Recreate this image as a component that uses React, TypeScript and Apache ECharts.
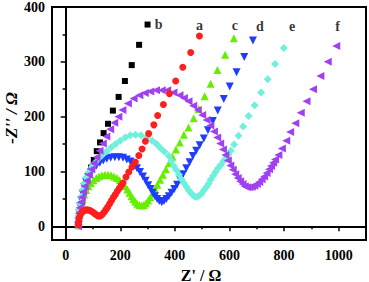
import React, { useEffect, useRef } from 'react';
import * as echarts from 'echarts';

// Series a (red circles)
const aX = [46,48,51,55,60,66,73,80,88,96,104,112,119,126,133,140,147,154,161,168,175,182,189,196,203,210,221,231,243,255,268,280,292,304,323,337,358,380,403,429,458,490];
const aY = [3,10,17,22,26,28,30,30,29,27,24,21,19,19,21,25,30,35,41,47,53,58,64,69,74,79,90,99,108,117,129,141,155,169,185,202,222,242,265,290,317,347];
// Series b (black squares)
const bX = [47,49,52,56,61,66,72,78,85,93,103,114,126,139,155,173,194,217,242,269,300];
const bY = [4,13,23,34,45,57,69,81,94,107,121,137,153,170,187,211,236,265,294,331,368];
// Series c (green up-triangles)
const cX = [47,48,50,53,57,62,68,75,83,92,102,112,122,133,144,155,166,177,188,198,208,217,226,234,241,248,255,262,270,278,286,294,302,310,318,327,336,346,356,367,379,391,404,418,433,450,469,487,509,531,556,584,616];
const cY = [2,10,20,30,40,50,58,66,73,79,84,88,91,93,94,94,93,91,88,84,79,73,67,61,55,50,45,41,39,38,39,42,47,53,60,68,76,85,94,104,115,127,140,153,167,180,197,214,237,260,285,313,343];
// Series d (blue down-triangles)
const dX = [47,48,50,53,57,62,68,75,83,92,102,113,125,138,151,165,180,195,210,224,237,249,261,272,283,293,302,311,319,327,335,343,352,360,369,378,388,398,408,419,430,442,454,466,478,491,506,521,539,557,579,601,626,654,686];
const dY = [2,12,24,36,48,60,71,81,90,98,105,111,116,120,123,125,126,126,125,122,118,113,106,99,91,83,75,68,61,55,50,46,44,46,50,55,61,68,76,85,95,106,117,128,138,148,160,175,192,211,232,255,281,309,339];
// Series e (cyan diamonds)
const eX = [47,47,48,50,53,57,62,68,75,85,96,108,122,136,151,167,183,200,218,237,256,276,297,317,333,347,362,378,387,396,406,415,424,433,442,450,458,466,474,482,490,498,507,516,524,531,540,549,558,568,578,587,596,605,617,633,650,670,692,716,740,767,799];
const eY = [0,8,18,30,42,54,66,78,89,99,108,116,124,131,137,144,150,156,162,166,167,166,162,156,150,143,136,128,119,110,102,94,86,79,72,66,61,57,54,54,56,60,66,72,78,85,92,99,106,112,119,124,131,138,149,165,182,201,221,244,268,296,325];
// Series f (purple left-triangles)
const fX = [45,45,46,48,51,55,59,64,70,77,85,94,103,113,124,136,149,163,178,193,208,228,249,270,290,310,331,352,372,395,417,433,450,467,484,500,516,530,543,555,566,576,585,594,603,612,621,630,639,648,656,664,673,682,691,700,709,718,727,736,745,752,760,767,779,792,808,822,841,861,882,906,933,960,991];
const fY = [0,7,15,24,34,44,53,63,73,83,94,104,115,126,138,151,164,177,189,200,212,224,233,239,243,246,248,248,248,244,239,234,228,220,212,203,194,184,173,162,151,140,130,120,111,103,95,88,82,77,73,71,71,72,74,77,81,86,91,97,104,110,116,122,130,142,156,172,188,207,228,250,274,300,329];

// Curve labels
const labelNames = ['b', 'a', 'c', 'd', 'e', 'f'];
const labelX = [341, 490, 620, 711, 829, 996];
const labelY = [368, 367, 367, 364, 364, 364];

// Axis ticks
const xMajor = [0, 200, 400, 600, 800, 1000];
const xMinor = [100, 300, 500, 700, 900];
const yMajor = [0, 100, 200, 300, 400];
const yMinor = [50, 150, 250, 350];

const FONT = '"Liberation Serif", "Times New Roman", serif';

const zip = (xs: number[], ys: number[]) => xs.map((x, i) => [x, ys[i]]);

export default function App() {
  const ref = useRef<HTMLDivElement>(null);
  useEffect(() => {
    document.body.style.margin = '0';
    const chart = echarts.init(ref.current!, null, { renderer: 'svg' });
    const axisLine = { show: true, lineStyle: { color: '#000', width: 2 } };
    const xBase = { type: 'value', min: -50, max: 1100, splitLine: { show: false } };
    const yBase = { type: 'value', min: -25, max: 400, splitLine: { show: false } };
    const sc = (name: string, xs: number[], ys: number[], symbol: string, size: number, color: string, rotate = 0) => ({
      type: 'scatter',
      name,
      data: zip(xs, ys),
      symbol,
      symbolSize: size,
      symbolRotate: rotate,
      itemStyle: { color, opacity: 1 },
      xAxisIndex: 0,
      yAxisIndex: 0,
    });
    chart.setOption({
      animation: false,
      backgroundColor: '#fff',
      grid: {
        left: 52, right: 3, top: 7, bottom: 42,
        outerBoundsMode: 'none', containLabel: false,
        show: true, borderColor: '#000', borderWidth: 2, backgroundColor: 'transparent',
      },
      xAxis: [
        {
          ...xBase,
          axisLine,
          axisTick: { show: true, customValues: xMajor, length: 5, inside: false, lineStyle: { color: '#000', width: 1.5 } },
          axisLabel: { customValues: xMajor, formatter: (v: number) => String(v), color: '#000', fontFamily: FONT, fontWeight: 'bold', fontSize: 14, margin: 8 },
          name: "Z' / Ω",
          nameLocation: 'middle',
          nameGap: 27,
          nameMoveOverlap: false,
          nameTextStyle: { color: '#000', fontFamily: FONT, fontWeight: 'bold', fontSize: 16, padding: [0, 16, 0, 0] },
        },
        {
          ...xBase,
          position: 'bottom',
          axisLine: { show: false },
          axisTick: { show: true, customValues: xMinor, length: 3, lineStyle: { color: '#000', width: 1.5 } },
          axisLabel: { show: false },
        },
      ],
      yAxis: [
        {
          ...yBase,
          axisLine,
          axisTick: { show: true, customValues: yMajor, length: 5, lineStyle: { color: '#000', width: 1.5 } },
          axisLabel: { customValues: yMajor, formatter: (v: number) => String(v), color: '#000', fontFamily: FONT, fontWeight: 'bold', fontSize: 14, margin: 7 },
          name: "-Z'' / Ω",
          nameLocation: 'middle',
          nameGap: 32,
          nameMoveOverlap: false,
          nameTextStyle: { color: '#000', fontFamily: FONT, fontWeight: 'bold', fontStyle: 'italic', fontSize: 17, lineHeight: 17, padding: [0, 0, 0, 11] },
        },
        {
          ...yBase,
          position: 'left',
          axisLine: { show: false },
          axisTick: { show: true, customValues: yMinor, length: 3, lineStyle: { color: '#000', width: 1.5 } },
          axisLabel: { show: false },
        },
      ],
      series: [
        sc('b', bX, bY, 'rect', 6, '#000000'),
        sc('c', cX, cY, 'triangle', 8, '#66ee00'),
        sc('d', dX, dY, 'triangle', 8, '#1f3cff', 180),
        sc('e', eX, eY, 'diamond', 8, '#6ff0dc'),
        sc('f', fX, fY, 'triangle', 8, '#a040f0', 90),
        sc('a', aX, aY, 'circle', 7, '#ff1e1e'),
        {
          type: 'scatter',
          data: labelNames.map((n, i) => [labelX[i], labelY[i], n]),
          symbolSize: 1,
          itemStyle: { color: 'rgba(0,0,0,0)' },
          labelLayout: { hideOverlap: false },
          label: {
            show: true,
            position: 'inside',
            formatter: (p: any) => p.value[2],
            color: '#000',
            fontFamily: FONT,
            fontWeight: 'bold',
            fontSize: 14,
          },
        },
      ],
    });
    return () => chart.dispose();
  }, []);
  return <div ref={ref} style={{ width: 369, height: 282 }} />;
}
